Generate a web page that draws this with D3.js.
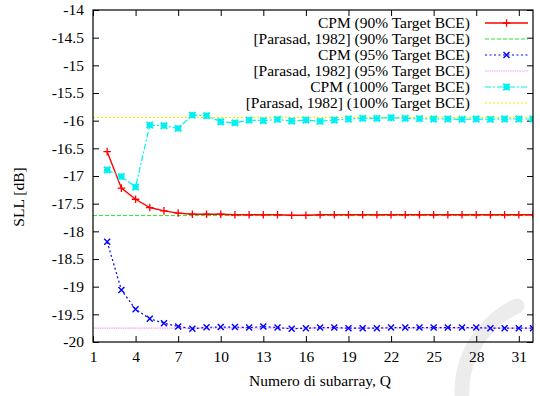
<!DOCTYPE html>
<html>
<head>
<meta charset="utf-8">
<script src="https://cdn.jsdelivr.net/npm/d3@7/dist/d3.min.js"></script>
<style>
  html, body { margin: 0; padding: 0; background: #fff; }
  svg { display: block; }
</style>
</head>
<body>
<div id="chart"></div>
<script>
// Number of subarrays Q
const subarrays = [2, 3, 4, 5, 6, 7, 8, 9, 10, 11, 12, 13, 14, 15, 16, 17,
                   18, 19, 20, 21, 22, 23, 24, 25, 26, 27, 28, 29, 30, 31, 32];

// SLL [dB] obtained with CPM for each target BCE
const cpm90 = [-16.56, -17.22, -17.42, -17.57, -17.63, -17.67, -17.69, -17.69,
               -17.69, -17.70, -17.70, -17.70, -17.70, -17.71, -17.71, -17.70,
               -17.70, -17.70, -17.70, -17.70, -17.70, -17.70, -17.70, -17.70,
               -17.70, -17.70, -17.70, -17.70, -17.70, -17.70, -17.70];
const cpm95 = [-18.19, -19.06, -19.41, -19.58, -19.66, -19.72, -19.76, -19.735,
               -19.73, -19.73, -19.74, -19.72, -19.74, -19.76, -19.75, -19.74,
               -19.74, -19.75, -19.75, -19.75, -19.74, -19.74, -19.74, -19.74,
               -19.74, -19.74, -19.74, -19.75, -19.75, -19.75, -19.75];
const cpm100 = [-16.89, -17.01, -17.20, -16.08, -16.09, -16.14, -15.90, -15.91,
                -16.02, -16.04, -15.99, -16.00, -15.976, -16.006, -15.988, -16.012,
                -15.988, -15.97, -15.958, -15.958, -15.946, -15.958, -15.964, -15.97,
                -15.97, -15.976, -15.97, -15.976, -15.97, -15.97, -15.97];

// Reference levels [Parasad, 1982]
const parasad90 = -17.715;
const parasad95 = -19.75;
const parasad100 = -15.94;

// Axis ticks
const xTicks = [1, 4, 7, 10, 13, 16, 19, 22, 25, 28, 31];
const yTicks = [-14, -14.5, -15, -15.5, -16, -16.5, -17, -17.5, -18, -18.5, -19, -19.5, -20];

const legendLabels = [
  "CPM (90% Target BCE)",
  "[Parasad, 1982] (90% Target BCE)",
  "CPM (95% Target BCE)",
  "[Parasad, 1982] (95% Target BCE)",
  "CPM (100% Target BCE)",
  "[Parasad, 1982] (100% Target BCE)"
];

const FONT = "'Liberation Serif', 'Times New Roman', Tinos, serif";
const W = 540, H = 396;
const plot = { left: 93, right: 533, top: 10, bottom: 342 };

const svg = d3.select("#chart").append("svg")
  .attr("width", W).attr("height", H)
  .style("font-family", FONT);

const x = d3.scaleLinear().domain([1, 32]).range([plot.left, plot.right]);
const y = d3.scaleLinear().domain([-20, -14]).range([plot.bottom, plot.top]);

// faint circular emblem in the lower right corner
(function () {
  const cx = 557, cy = 392, r = 95;
  const a0 = 245 * Math.PI / 180, a1 = 160 * Math.PI / 180;
  const p0 = [cx + r * Math.cos(a0), cy + r * Math.sin(a0)];
  const p1 = [cx + r * Math.cos(a1), cy + r * Math.sin(a1)];
  svg.append("path")
    .attr("d", `M${p0[0]},${p0[1]} A${r},${r} 0 0 0 ${p1[0]},${p1[1]}`)
    .attr("fill", "none")
    .attr("stroke", "#ececec")
    .attr("stroke-width", 15)
    .attr("stroke-linecap", "round");
})();

// axes with inward ticks, mirrored on top and right
const tickLen = 6;
const axB = d3.axisBottom(x).tickValues(xTicks).tickSize(-tickLen).tickPadding(9).tickFormat(d3.format("d"));
const axT = d3.axisTop(x).tickValues(xTicks).tickSize(-tickLen).tickFormat("");
const axL = d3.axisLeft(y).tickValues(yTicks).tickSize(-tickLen).tickPadding(9).tickFormat(d => String(d));
const axR = d3.axisRight(y).tickValues(yTicks).tickSize(-tickLen).tickFormat("");

function styleAxis(g) {
  g.attr("font-family", null).attr("font-size", null);
  g.select(".domain").remove();
  g.selectAll(".tick line").attr("stroke", "#000").attr("stroke-width", 1);
  g.selectAll(".tick text")
    .style("font-family", FONT).style("font-size", "15.5px")
    .attr("fill", "#000");
}

svg.append("g").attr("transform", `translate(0,${plot.bottom})`).call(axB).call(styleAxis);
svg.append("g").attr("transform", `translate(0,${plot.top})`).call(axT).call(styleAxis);
svg.append("g").attr("transform", `translate(${plot.left},0)`).call(axL).call(styleAxis);
svg.append("g").attr("transform", `translate(${plot.right},0)`).call(axR).call(styleAxis);

// series definitions
const series = [
  { values: cpm90, color: "#ff0000", width: 1.4, dash: null, marker: "plus" },
  { level: parasad90, color: "#2ee02e", width: 1, dash: "4,2" },
  { values: cpm95, color: "#0000ff", width: 1.2, dash: "2,2.5", marker: "cross" },
  { level: parasad95, color: "#f5a0f5", width: 1.2, dash: "1.5,0.8" },
  { values: cpm100, color: "#00f0f0", width: 1.2, dash: "6,2,2,2", marker: "star" },
  { level: parasad100, color: "#f0f000", width: 1.2, dash: "2,2" }
];

svg.append("clipPath").attr("id", "plotclip")
  .append("rect").attr("x", plot.left).attr("y", plot.top)
  .attr("width", plot.right - plot.left).attr("height", plot.bottom - plot.top);

const dataG = svg.append("g").attr("clip-path", "url(#plotclip)");
const line = d3.line().x(d => x(d[0])).y(d => y(d[1]));

function markerPath(type, s) {
  if (type === "plus") return `M${-s},0H${s}M0,${-s}V${s}`;
  if (type === "cross") return `M${-s},${-s}L${s},${s}M${-s},${s}L${s},${-s}`;
  // star: plus and cross combined
  return `M${-s},0H${s}M0,${-s}V${s}M${-s},${-s}L${s},${s}M${-s},${s}L${s},${-s}`;
}
const markerSize = { plus: 3.8, cross: 3, star: 3.2 };
const markerWidth = { plus: 1.3, cross: 1.4, star: 2 };

series.forEach(s => {
  if (s.level !== undefined) {
    dataG.append("path")
      .attr("d", line([[1, s.level], [32, s.level]]))
      .attr("fill", "none").attr("stroke", s.color)
      .attr("stroke-width", s.width)
      .attr("stroke-dasharray", s.dash);
  }
});

series.forEach(s => {
  if (s.values) {
    const pts = subarrays.map((q, i) => [q, s.values[i]]);
    dataG.append("path")
      .attr("d", line(pts))
      .attr("fill", "none").attr("stroke", s.color)
      .attr("stroke-width", s.width)
      .attr("stroke-dasharray", s.dash);
    dataG.selectAll(null).data(pts).enter().append("path")
      .attr("transform", d => `translate(${x(d[0])},${y(d[1])})`)
      .attr("d", markerPath(s.marker, markerSize[s.marker]))
      .attr("fill", "none").attr("stroke", s.color)
      .attr("stroke-width", markerWidth[s.marker]);
  }
});

// plot frame
svg.append("rect")
  .attr("x", plot.left).attr("y", plot.top)
  .attr("width", plot.right - plot.left).attr("height", plot.bottom - plot.top)
  .attr("fill", "none").attr("stroke", "#000").attr("stroke-width", 1.2);

// legend
const leg = svg.append("g");
const legTextX = 470, legLineX0 = 485, legLineX1 = 528, legY0 = 23, legDy = 16;
series.forEach((s, i) => {
  const ly = legY0 + i * legDy;
  leg.append("text")
    .attr("x", legTextX).attr("y", ly + 5)
    .attr("text-anchor", "end")
    .style("font-family", FONT).style("font-size", "15.5px")
    .text(legendLabels[i]);
  leg.append("line")
    .attr("x1", legLineX0).attr("x2", legLineX1)
    .attr("y1", ly).attr("y2", ly)
    .attr("stroke", s.color).attr("stroke-width", s.width)
    .attr("stroke-dasharray", s.dash);
  if (s.marker) {
    leg.append("path")
      .attr("transform", `translate(${(legLineX0 + legLineX1) / 2},${ly})`)
      .attr("d", markerPath(s.marker, markerSize[s.marker]))
      .attr("fill", "none").attr("stroke", s.color)
      .attr("stroke-width", markerWidth[s.marker]);
  }
});

// axis titles
svg.append("text")
  .attr("x", 320).attr("y", 386)
  .attr("text-anchor", "middle")
  .style("font-family", FONT).style("font-size", "15.5px")
  .text("Numero di subarray, Q");
svg.append("text")
  .attr("transform", "translate(24,197) rotate(-90)")
  .attr("text-anchor", "middle")
  .style("font-family", FONT).style("font-size", "15.5px")
  .text("SLL [dB]");
</script>
</body>
</html>
